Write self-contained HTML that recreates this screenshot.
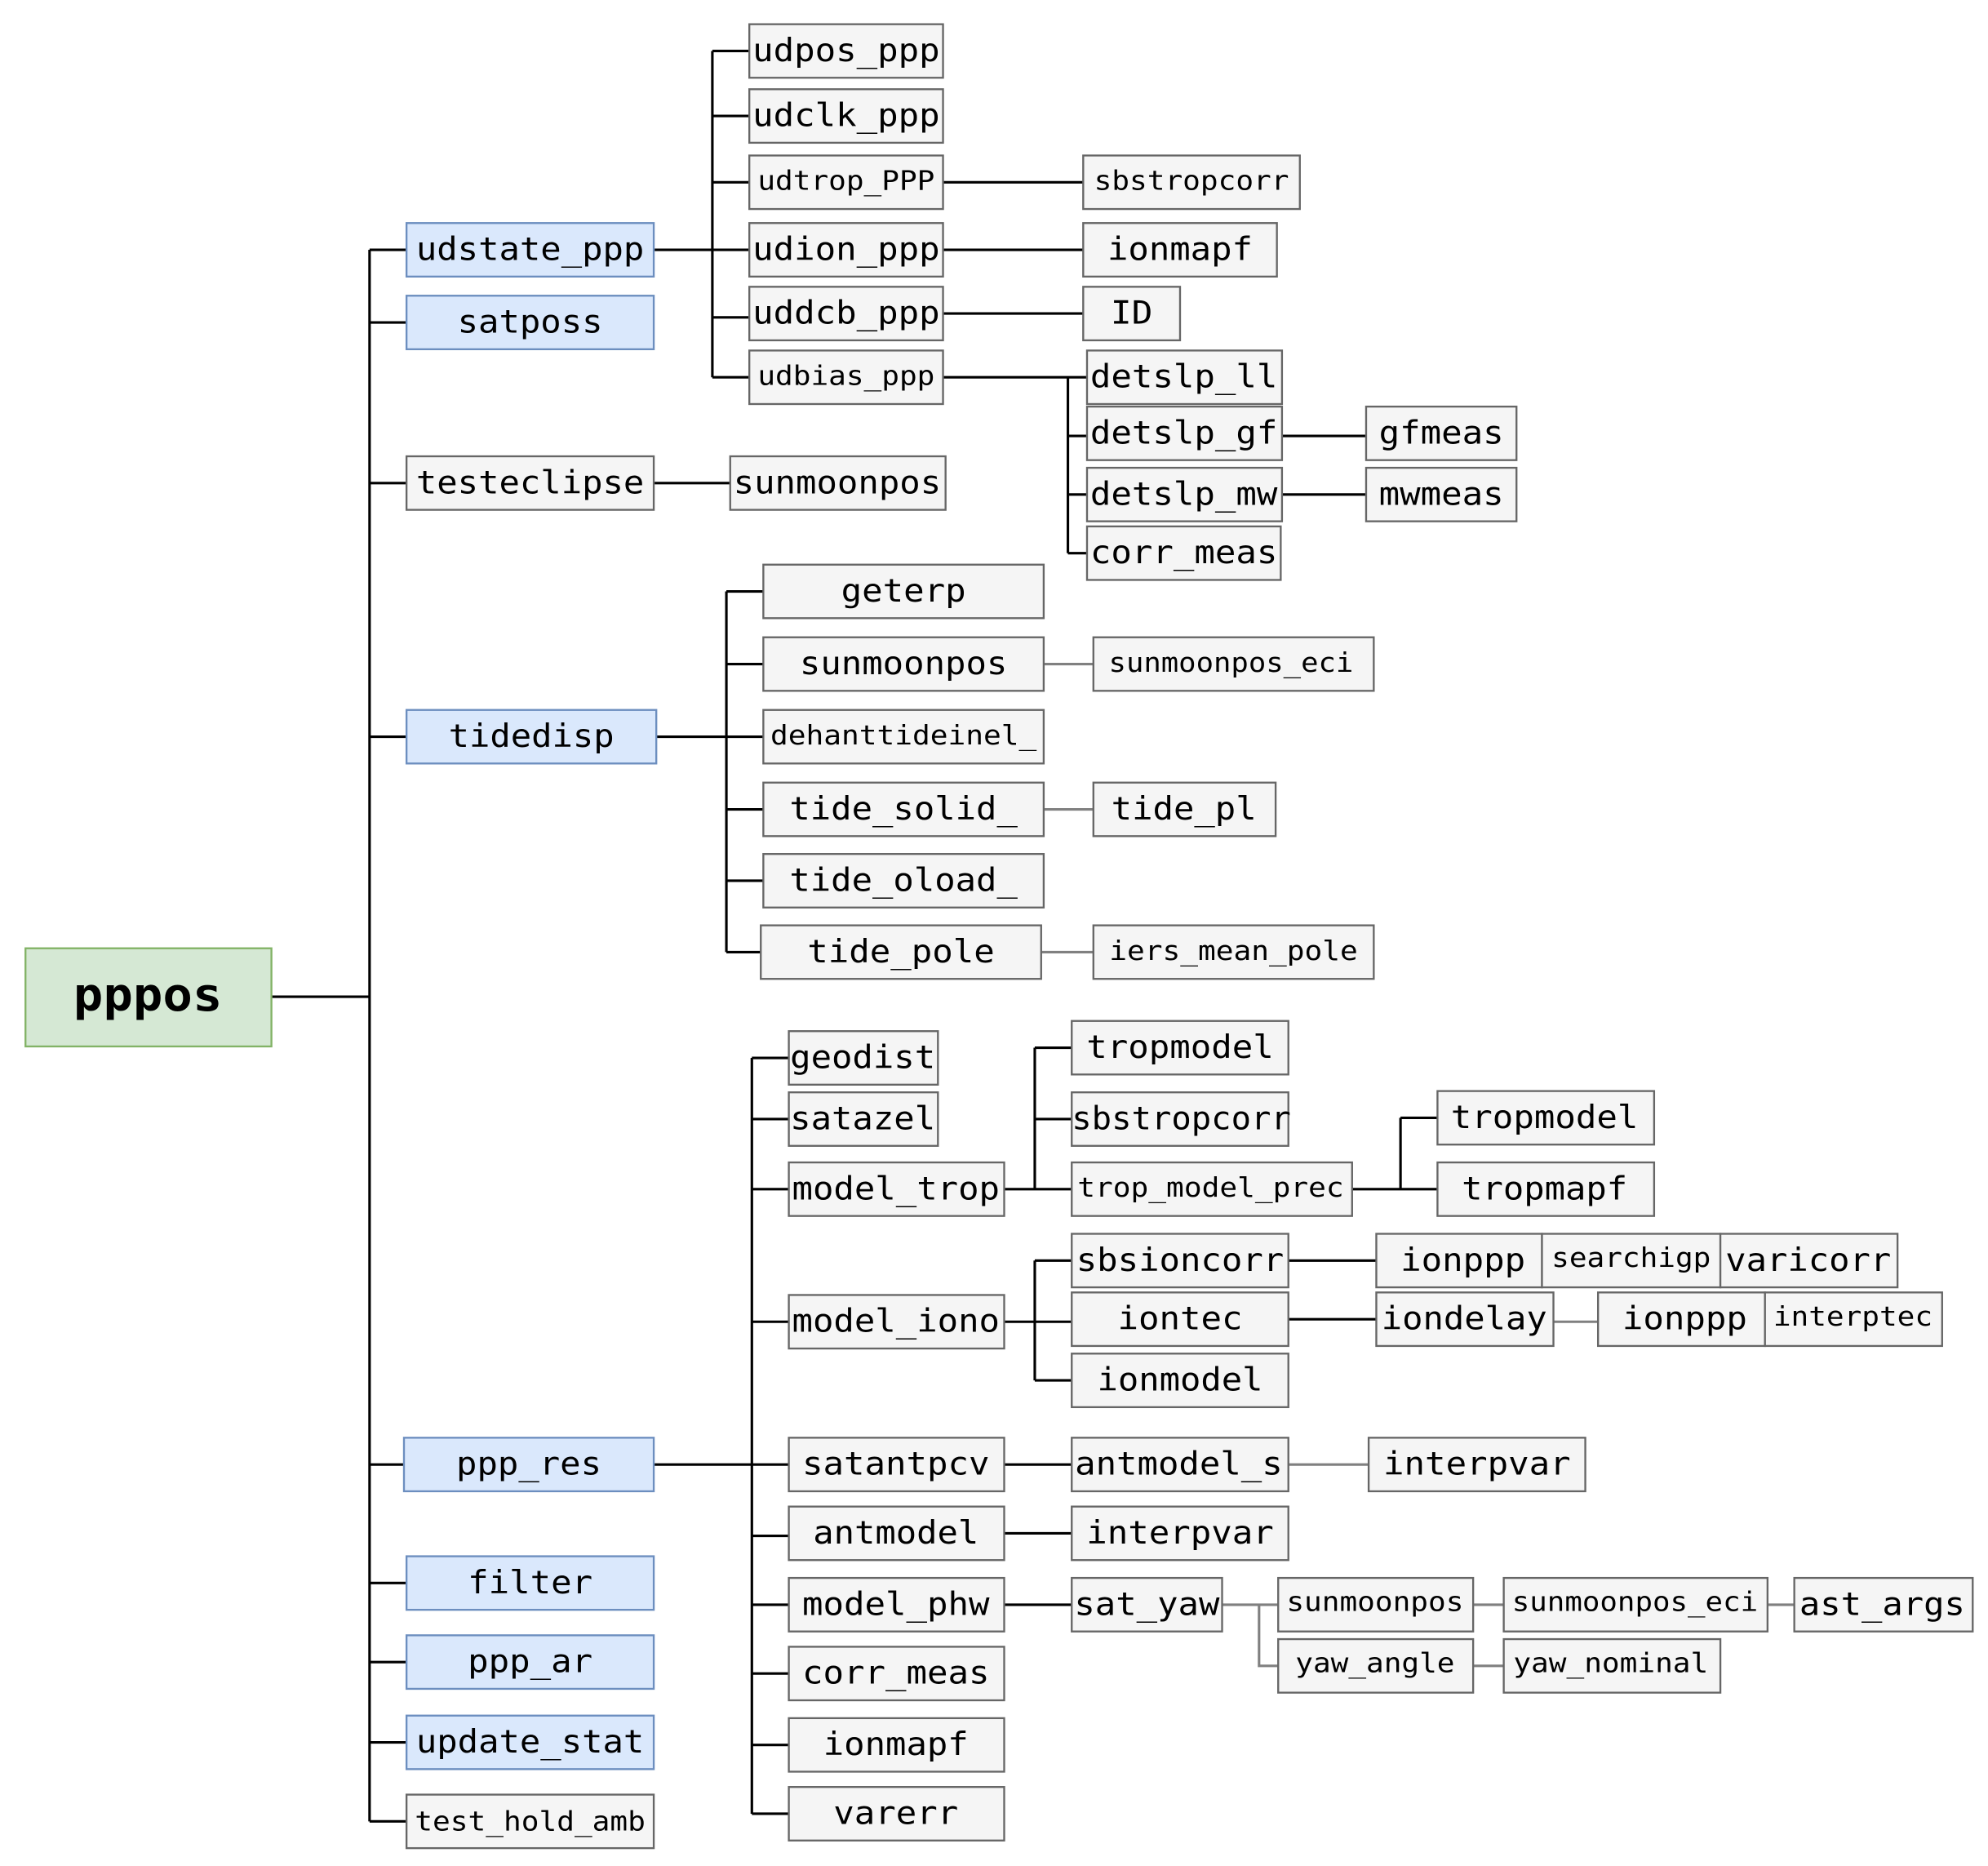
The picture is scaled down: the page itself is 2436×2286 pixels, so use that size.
<!DOCTYPE html>
<html><head><meta charset="utf-8"><style>
html,body{margin:0;padding:0;background:#fff;}
svg{display:block;}
text{font-family:"DejaVu Sans Mono","Liberation Mono",monospace;fill:#000;}
.g{fill:#f5f5f5;stroke:#666;stroke-width:1.5;}
.b{fill:#dae8fc;stroke:#6c8ebf;stroke-width:1.5;}
.k{stroke:#000;stroke-width:2;fill:none;}
.r{stroke:#808080;stroke-width:2;fill:none;}
.B{font-size:25px;}
.S{font-size:21px;}
</style></head><body>
<svg width="2436" height="2286" viewBox="0 0 1560 1464" preserveAspectRatio="none" xmlns="http://www.w3.org/2000/svg">
<!-- connectors -->
<path class="k" d="M213 782 H290 M290 196 V1429 M290 196 H319 M290 253 H319 M290 379 H319 M290 578 H319 M290 1149 H317 M290 1242 H319 M290 1304 H319 M290 1367 H319 M290 1429 H319"/>
<path class="k" d="M513 196 H588 M559 40 V296 M559 40 H588 M559 91 H588 M559 143 H588 M559 249 H588 M559 296 H588"/>
<path class="k" d="M513 379 H573"/>
<path class="k" d="M740 143 H850 M740 196 H850 M740 246 H850 M740 296 H853 M838 296 V434 M838 342 H853 M838 388 H853 M838 434 H853 M1006 342 H1072 M1006 388 H1072"/>
<path class="k" d="M515 578 H599 M570 464 V747 M570 464 H599 M570 521 H599 M570 635 H599 M570 691 H599 M570 747 H597"/>
<path class="r" d="M819 521 H858 M819 635 H858 M817 747 H858"/>
<path class="k" d="M513 1149 H619 M590 830 V1423 M590 830 H619 M590 878 H619 M590 933 H619 M590 1037 H619 M590 1205 H619 M590 1259 H619 M590 1313 H619 M590 1369 H619 M590 1423 H619"/>
<path class="k" d="M788 933 H841 M812 822 V933 M812 822 H841 M812 878 H841 M1061 933 H1128 M1099 877 V933 M1099 877 H1128"/>
<path class="k" d="M788 1037 H841 M812 989 V1083 M812 989 H841 M812 1083 H841 M1011 989 H1080 M1011 1035 H1080"/>
<path class="r" d="M1219 1037 H1254"/>
<path class="k" d="M788 1149 H841 M788 1203 H841 M788 1259 H841"/>
<path class="r" d="M1011 1149 H1074 M959 1259 H988 V1307 H1003 M988 1259 H1003 M1156 1259 H1180 M1387 1259 H1408 M1156 1307 H1180"/>
<!-- root -->
<rect x="20" y="744" width="193" height="77" fill="#d5e8d4" stroke="#82b366" stroke-width="1.5"/>
<text x="116" y="793" text-anchor="middle" font-size="36" font-weight="bold" textLength="117" lengthAdjust="spacingAndGlyphs">pppos</text>
<!-- nodes -->
<g>
<rect class="b" x="319" y="175" width="194" height="42"/><text class="B" x="416" y="204" text-anchor="middle" textLength="179" lengthAdjust="spacingAndGlyphs">udstate_ppp</text>
<rect class="b" x="319" y="232" width="194" height="42"/><text class="B" x="416" y="261" text-anchor="middle" textLength="114" lengthAdjust="spacingAndGlyphs">satposs</text>
<rect class="g" x="319" y="358" width="194" height="42"/><text class="B" x="416" y="387" text-anchor="middle" textLength="179" lengthAdjust="spacingAndGlyphs">testeclipse</text>
<rect class="b" x="319" y="557" width="196" height="42"/><text class="B" x="417" y="586" text-anchor="middle" textLength="130" lengthAdjust="spacingAndGlyphs">tidedisp</text>
<rect class="b" x="317" y="1128" width="196" height="42"/><text class="B" x="415" y="1157" text-anchor="middle" textLength="114" lengthAdjust="spacingAndGlyphs">ppp_res</text>
<rect class="b" x="319" y="1221" width="194" height="42"/><text class="B" x="416" y="1250" text-anchor="middle" textLength="98" lengthAdjust="spacingAndGlyphs">filter</text>
<rect class="b" x="319" y="1283" width="194" height="42"/><text class="B" x="416" y="1312" text-anchor="middle" textLength="98" lengthAdjust="spacingAndGlyphs">ppp_ar</text>
<rect class="b" x="319" y="1346" width="194" height="42"/><text class="B" x="416" y="1375" text-anchor="middle" textLength="179" lengthAdjust="spacingAndGlyphs">update_stat</text>
<rect class="g" x="319" y="1408" width="194" height="42"/><text class="S" x="416" y="1436" text-anchor="middle" textLength="181" lengthAdjust="spacingAndGlyphs">test_hold_amb</text>

<rect class="g" x="588" y="19" width="152" height="42"/><text class="B" x="664" y="48" text-anchor="middle" textLength="147" lengthAdjust="spacingAndGlyphs">udpos_ppp</text>
<rect class="g" x="588" y="70" width="152" height="42"/><text class="B" x="664" y="99" text-anchor="middle" textLength="147" lengthAdjust="spacingAndGlyphs">udclk_ppp</text>
<rect class="g" x="588" y="122" width="152" height="42"/><text class="S" x="664" y="149" text-anchor="middle" textLength="139" lengthAdjust="spacingAndGlyphs">udtrop_PPP</text>
<rect class="g" x="588" y="175" width="152" height="42"/><text class="B" x="664" y="204" text-anchor="middle" textLength="147" lengthAdjust="spacingAndGlyphs">udion_ppp</text>
<rect class="g" x="588" y="225" width="152" height="42"/><text class="B" x="664" y="254" text-anchor="middle" textLength="147" lengthAdjust="spacingAndGlyphs">uddcb_ppp</text>
<rect class="g" x="588" y="275" width="152" height="42"/><text class="S" x="664" y="302" text-anchor="middle" textLength="139" lengthAdjust="spacingAndGlyphs">udbias_ppp</text>
<rect class="g" x="573" y="358" width="169" height="42"/><text class="B" x="657" y="387" text-anchor="middle" textLength="163" lengthAdjust="spacingAndGlyphs">sunmoonpos</text>

<rect class="g" x="850" y="122" width="170" height="42"/><text class="S" x="935" y="149" text-anchor="middle" textLength="153" lengthAdjust="spacingAndGlyphs">sbstropcorr</text>
<rect class="g" x="850" y="175" width="152" height="42"/><text class="B" x="926" y="204" text-anchor="middle" textLength="114" lengthAdjust="spacingAndGlyphs">ionmapf</text>
<rect class="g" x="850" y="225" width="76" height="42"/><text class="B" x="888" y="254" text-anchor="middle" textLength="33" lengthAdjust="spacingAndGlyphs">ID</text>
<rect class="g" x="853" y="275" width="153" height="42"/><text class="B" x="929" y="304" text-anchor="middle" textLength="147" lengthAdjust="spacingAndGlyphs">detslp_ll</text>
<rect class="g" x="853" y="319" width="153" height="42"/><text class="B" x="929" y="348" text-anchor="middle" textLength="147" lengthAdjust="spacingAndGlyphs">detslp_gf</text>
<rect class="g" x="853" y="367" width="153" height="42"/><text class="B" x="929" y="396" text-anchor="middle" textLength="147" lengthAdjust="spacingAndGlyphs">detslp_mw</text>
<rect class="g" x="853" y="413" width="152" height="42"/><text class="B" x="929" y="442" text-anchor="middle" textLength="147" lengthAdjust="spacingAndGlyphs">corr_meas</text>
<rect class="g" x="1072" y="319" width="118" height="42"/><text class="B" x="1131" y="348" text-anchor="middle" textLength="98" lengthAdjust="spacingAndGlyphs">gfmeas</text>
<rect class="g" x="1072" y="367" width="118" height="42"/><text class="B" x="1131" y="396" text-anchor="middle" textLength="98" lengthAdjust="spacingAndGlyphs">mwmeas</text>

<rect class="g" x="599" y="443" width="220" height="42"/><text class="B" x="709" y="472" text-anchor="middle" textLength="98" lengthAdjust="spacingAndGlyphs">geterp</text>
<rect class="g" x="599" y="500" width="220" height="42"/><text class="B" x="709" y="529" text-anchor="middle" textLength="163" lengthAdjust="spacingAndGlyphs">sunmoonpos</text>
<rect class="g" x="599" y="557" width="220" height="42"/><text class="S" x="709" y="584" text-anchor="middle" textLength="209" lengthAdjust="spacingAndGlyphs">dehanttideinel_</text>
<rect class="g" x="599" y="614" width="220" height="42"/><text class="B" x="709" y="643" text-anchor="middle" textLength="179" lengthAdjust="spacingAndGlyphs">tide_solid_</text>
<rect class="g" x="599" y="670" width="220" height="42"/><text class="B" x="709" y="699" text-anchor="middle" textLength="179" lengthAdjust="spacingAndGlyphs">tide_oload_</text>
<rect class="g" x="597" y="726" width="220" height="42"/><text class="B" x="707" y="755" text-anchor="middle" textLength="147" lengthAdjust="spacingAndGlyphs">tide_pole</text>
<rect class="g" x="858" y="500" width="220" height="42"/><text class="S" x="966" y="527" text-anchor="middle" textLength="192" lengthAdjust="spacingAndGlyphs">sunmoonpos_eci</text>
<rect class="g" x="858" y="614" width="143" height="42"/><text class="B" x="929" y="643" text-anchor="middle" textLength="114" lengthAdjust="spacingAndGlyphs">tide_pl</text>
<rect class="g" x="858" y="726" width="220" height="42"/><text class="S" x="968" y="753" text-anchor="middle" textLength="195" lengthAdjust="spacingAndGlyphs">iers_mean_pole</text>

<rect class="g" x="619" y="809" width="117" height="42"/><text class="B" x="677" y="838" text-anchor="middle" textLength="114" lengthAdjust="spacingAndGlyphs">geodist</text>
<rect class="g" x="619" y="857" width="117" height="42"/><text class="B" x="677" y="886" text-anchor="middle" textLength="114" lengthAdjust="spacingAndGlyphs">satazel</text>
<rect class="g" x="619" y="912" width="169" height="42"/><text class="B" x="703" y="941" text-anchor="middle" textLength="163" lengthAdjust="spacingAndGlyphs">model_trop</text>
<rect class="g" x="619" y="1016" width="169" height="42"/><text class="B" x="703" y="1045" text-anchor="middle" textLength="163" lengthAdjust="spacingAndGlyphs">model_iono</text>
<rect class="g" x="619" y="1128" width="169" height="42"/><text class="B" x="703" y="1157" text-anchor="middle" textLength="147" lengthAdjust="spacingAndGlyphs">satantpcv</text>
<rect class="g" x="619" y="1182" width="169" height="42"/><text class="B" x="703" y="1211" text-anchor="middle" textLength="130" lengthAdjust="spacingAndGlyphs">antmodel</text>
<rect class="g" x="619" y="1238" width="169" height="42"/><text class="B" x="703" y="1267" text-anchor="middle" textLength="147" lengthAdjust="spacingAndGlyphs">model_phw</text>
<rect class="g" x="619" y="1292" width="169" height="42"/><text class="B" x="703" y="1321" text-anchor="middle" textLength="147" lengthAdjust="spacingAndGlyphs">corr_meas</text>
<rect class="g" x="619" y="1348" width="169" height="42"/><text class="B" x="703" y="1377" text-anchor="middle" textLength="114" lengthAdjust="spacingAndGlyphs">ionmapf</text>
<rect class="g" x="619" y="1402" width="169" height="42"/><text class="B" x="703" y="1431" text-anchor="middle" textLength="98" lengthAdjust="spacingAndGlyphs">varerr</text>

<rect class="g" x="841" y="801" width="170" height="42"/><text class="B" x="926" y="830" text-anchor="middle" textLength="147" lengthAdjust="spacingAndGlyphs">tropmodel</text>
<rect class="g" x="841" y="857" width="170" height="42"/><text class="B" x="927" y="886" text-anchor="middle" textLength="172" lengthAdjust="spacingAndGlyphs">sbstropcorr</text>
<rect class="g" x="841" y="912" width="220" height="42"/><text class="S" x="950" y="939" text-anchor="middle" textLength="209" lengthAdjust="spacingAndGlyphs">trop_model_prec</text>
<rect class="g" x="1128" y="856" width="170" height="42"/><text class="B" x="1212" y="885" text-anchor="middle" textLength="147" lengthAdjust="spacingAndGlyphs">tropmodel</text>
<rect class="g" x="1128" y="912" width="170" height="42"/><text class="B" x="1212" y="941" text-anchor="middle" textLength="130" lengthAdjust="spacingAndGlyphs">tropmapf</text>

<rect class="g" x="841" y="968" width="170" height="42"/><text class="B" x="926" y="997" text-anchor="middle" textLength="163" lengthAdjust="spacingAndGlyphs">sbsioncorr</text>
<rect class="g" x="841" y="1014" width="170" height="42"/><text class="B" x="926" y="1043" text-anchor="middle" textLength="98" lengthAdjust="spacingAndGlyphs">iontec</text>
<rect class="g" x="841" y="1062" width="170" height="42"/><text class="B" x="926" y="1091" text-anchor="middle" textLength="130" lengthAdjust="spacingAndGlyphs">ionmodel</text>
<rect class="g" x="1080" y="968" width="130" height="42"/><text class="B" x="1148" y="997" text-anchor="middle" textLength="98" lengthAdjust="spacingAndGlyphs">ionppp</text>
<rect class="g" x="1210" y="968" width="140" height="42"/><text class="S" x="1280" y="994" text-anchor="middle" textLength="125" lengthAdjust="spacingAndGlyphs">searchigp</text>
<rect class="g" x="1350" y="968" width="139" height="42"/><text class="B" x="1419" y="997" text-anchor="middle" textLength="130" lengthAdjust="spacingAndGlyphs">varicorr</text>
<rect class="g" x="1080" y="1014" width="139" height="42"/><text class="B" x="1149" y="1043" text-anchor="middle" textLength="130" lengthAdjust="spacingAndGlyphs">iondelay</text>
<rect class="g" x="1254" y="1014" width="131" height="42"/><text class="B" x="1322" y="1043" text-anchor="middle" textLength="98" lengthAdjust="spacingAndGlyphs">ionppp</text>
<rect class="g" x="1385" y="1014" width="139" height="42"/><text class="S" x="1454" y="1040" text-anchor="middle" textLength="125" lengthAdjust="spacingAndGlyphs">interptec</text>

<rect class="g" x="841" y="1128" width="170" height="42"/><text class="B" x="925" y="1157" text-anchor="middle" textLength="163" lengthAdjust="spacingAndGlyphs">antmodel_s</text>
<rect class="g" x="1074" y="1128" width="170" height="42"/><text class="B" x="1159" y="1157" text-anchor="middle" textLength="147" lengthAdjust="spacingAndGlyphs">interpvar</text>
<rect class="g" x="841" y="1182" width="170" height="42"/><text class="B" x="926" y="1211" text-anchor="middle" textLength="147" lengthAdjust="spacingAndGlyphs">interpvar</text>
<rect class="g" x="841" y="1238" width="118" height="42"/><text class="B" x="900" y="1267" text-anchor="middle" textLength="114" lengthAdjust="spacingAndGlyphs">sat_yaw</text>
<rect class="g" x="1003" y="1238" width="153" height="42"/><text class="S" x="1079" y="1264" text-anchor="middle" textLength="139" lengthAdjust="spacingAndGlyphs">sunmoonpos</text>
<rect class="g" x="1180" y="1238" width="207" height="42"/><text class="S" x="1283" y="1264" text-anchor="middle" textLength="193" lengthAdjust="spacingAndGlyphs">sunmoonpos_eci</text>
<rect class="g" x="1408" y="1238" width="140" height="42"/><text class="B" x="1477" y="1267" text-anchor="middle" textLength="130" lengthAdjust="spacingAndGlyphs">ast_args</text>
<rect class="g" x="1003" y="1286" width="153" height="42"/><text class="S" x="1079" y="1312" text-anchor="middle" textLength="125" lengthAdjust="spacingAndGlyphs">yaw_angle</text>
<rect class="g" x="1180" y="1286" width="170" height="42"/><text class="S" x="1264" y="1312" text-anchor="middle" textLength="153" lengthAdjust="spacingAndGlyphs">yaw_nominal</text>
</g>
</svg>
</body></html>
